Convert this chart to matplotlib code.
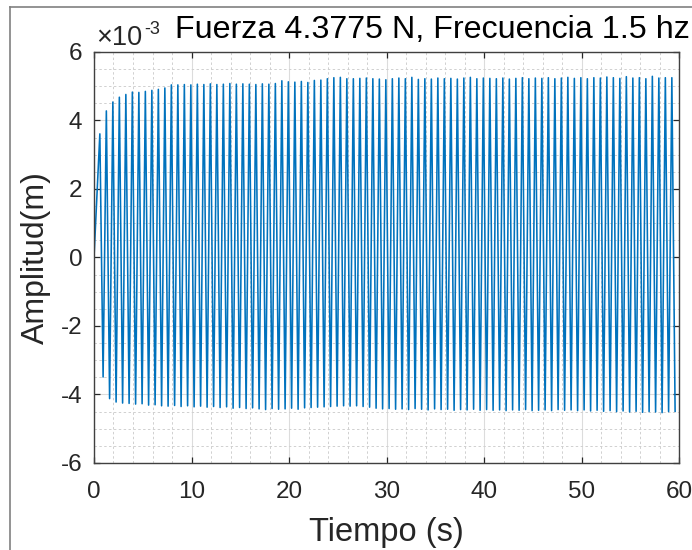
import numpy as np
import matplotlib
matplotlib.use("Agg")
import matplotlib.pyplot as plt
from matplotlib.ticker import MultipleLocator, FuncFormatter
from matplotlib.lines import Line2D

plt.rcParams['font.family'] = ['Liberation Sans', 'DejaVu Sans']

# Measured displacement, 1.5 Hz forcing at 4.3775 N
FREQ_HZ = 1.5
FIRST_PEAK_S = 0.6          # time of the first crest
START_VALUE_MM = 0.0        # displacement at t = 0

# crest of each cycle (mm)
peaks_mm = [
    3.61, 4.28, 4.54, 4.68, 4.76, 4.83, 4.82, 4.85, 4.88, 4.91,
    4.95, 5.04, 5.04, 5.05, 5.04, 5.06, 5.05, 5.07, 5.05, 5.06,
    5.08, 5.06, 5.07, 5.06, 5.05, 5.07, 5.06, 5.08, 5.16, 5.13,
    5.12, 5.14, 5.11, 5.17, 5.18, 5.22, 5.25, 5.26, 5.22, 5.22,
    5.23, 5.24, 5.22, 5.21, 5.19, 5.22, 5.24, 5.22, 5.26, 5.20,
    5.22, 5.21, 5.24, 5.22, 5.23, 5.21, 5.24, 5.26, 5.22, 5.24,
    5.23, 5.22, 5.24, 5.21, 5.23, 5.25, 5.22, 5.24, 5.23, 5.25,
    5.22, 5.24, 5.26, 5.23, 5.25, 5.22, 5.25, 5.24, 5.27, 5.25,
    5.23, 5.28, 5.24, 5.25, 5.22, 5.29, 5.24, 5.25, 5.25,
]

# trough of each cycle (mm)
troughs_mm = [
    -3.49, -4.12, -4.22, -4.25, -4.26, -4.28, -4.27, -4.31, -4.30, -4.33,
    -4.34, -4.32, -4.35, -4.33, -4.36, -4.34, -4.37, -4.35, -4.38, -4.36,
    -4.40, -4.38, -4.41, -4.39, -4.42, -4.44, -4.41, -4.43, -4.42, -4.40,
    -4.43, -4.39, -4.38, -4.37, -4.36, -4.35, -4.34, -4.33, -4.34, -4.33,
    -4.35, -4.37, -4.40, -4.42, -4.41, -4.43, -4.42, -4.44, -4.41, -4.43,
    -4.45, -4.42, -4.44, -4.43, -4.46, -4.44, -4.45, -4.43, -4.46, -4.44,
    -4.46, -4.45, -4.47, -4.45, -4.46, -4.44, -4.47, -4.46, -4.45, -4.47,
    -4.44, -4.46, -4.45, -4.47, -4.45, -4.48, -4.46, -4.49, -4.47, -4.50,
    -4.48, -4.51, -4.49, -4.52, -4.50, -4.51, -4.53, -4.50, -4.49,
]

x_ticks = [0, 10, 20, 30, 40, 50, 60]
y_ticks_mm = [-6, -4, -2, 0, 2, 4, 6]

TITLE = "Fuerza 4.3775 N, Frecuencia 1.5 hz"
XLABEL = "Tiempo (s)"
YLABEL = "Amplitud(m)"

# build the sampled signal: crest and trough of each cycle in turn
period = 1.0 / FREQ_HZ
n = len(peaks_mm)
t_peak = FIRST_PEAK_S + np.arange(n) * period
t_trough = t_peak + period / 2
t = np.empty(2 * n + 1)
y = np.empty(2 * n + 1)
t[0], y[0] = 0.0, START_VALUE_MM
t[1::2], y[1::2] = t_peak, peaks_mm
t[2::2], y[2::2] = t_trough, troughs_mm
y_m = y * 1e-3

W, H = 692, 550
fig = plt.figure(figsize=(W / 100, H / 100), dpi=100)
ax = fig.add_axes([94 / W, 1 - 463 / H, (679 - 94) / W, (463 - 52) / H])

ax.plot(t, y_m, color='#0072BD', lw=1.15)

ax.set_xlim(0, 60)
ax.set_ylim(-6e-3, 6e-3)
ax.set_xticks(x_ticks)
ax.set_yticks(np.array(y_ticks_mm) * 1e-3)
ax.xaxis.set_minor_locator(MultipleLocator(2))
ax.yaxis.set_minor_locator(MultipleLocator(0.5e-3))
ax.yaxis.set_major_formatter(FuncFormatter(lambda v, p: f"{round(v * 1e3):d}"))

axis_col = '#262626'
ax.grid(True, which='major', color='#dcdcdc', lw=0.8, ls='-')
ax.grid(True, which='minor', color='#d0d0d0', lw=0.7, ls=(0, (2.5, 2.5)))
ax.set_axisbelow(True)
ax.tick_params(which='major', direction='in', length=4, width=0.9,
               top=True, right=True, colors=axis_col, labelsize=17.5)
ax.tick_params(which='minor', length=0, top=True, right=True)
ax.tick_params(axis='y', pad=8.5)
ax.tick_params(axis='x', pad=13)
for s in ax.spines.values():
    s.set_color('#404040')
    s.set_linewidth(1.0)

fig.text(386.5 / W, 1 - 541 / H, XLABEL, ha='center', va='baseline',
         fontsize=23.5, color=axis_col)
fig.text(44 / W, 0.5 * (1 - 52 / H + 1 - 463 / H), YLABEL, ha='center',
         va='baseline', rotation=90, rotation_mode='anchor', fontsize=23,
         color=axis_col)
fig.text(432 / W, 1 - 38 / H, TITLE, ha='center', va='baseline',
         fontsize=23.2, color='black')
fig.text(96 / W, 1 - 45 / H, '\u00d710', ha='left', va='baseline',
         fontsize=19.5, color=axis_col)
fig.text(144 / W, 1 - 34 / H, '-3', ha='left', va='baseline',
         fontsize=13, color=axis_col)

# window frame edge
fig.add_artist(Line2D([9.5 / W, 9.5 / W], [0, 1 - 7 / H],
                      transform=fig.transFigure, color='#808080', lw=1.2))
fig.add_artist(Line2D([9.5 / W, 1], [1 - 7 / H, 1 - 7 / H],
                      transform=fig.transFigure, color='#808080', lw=1.2))

fig.savefig("out.png", dpi=100)
